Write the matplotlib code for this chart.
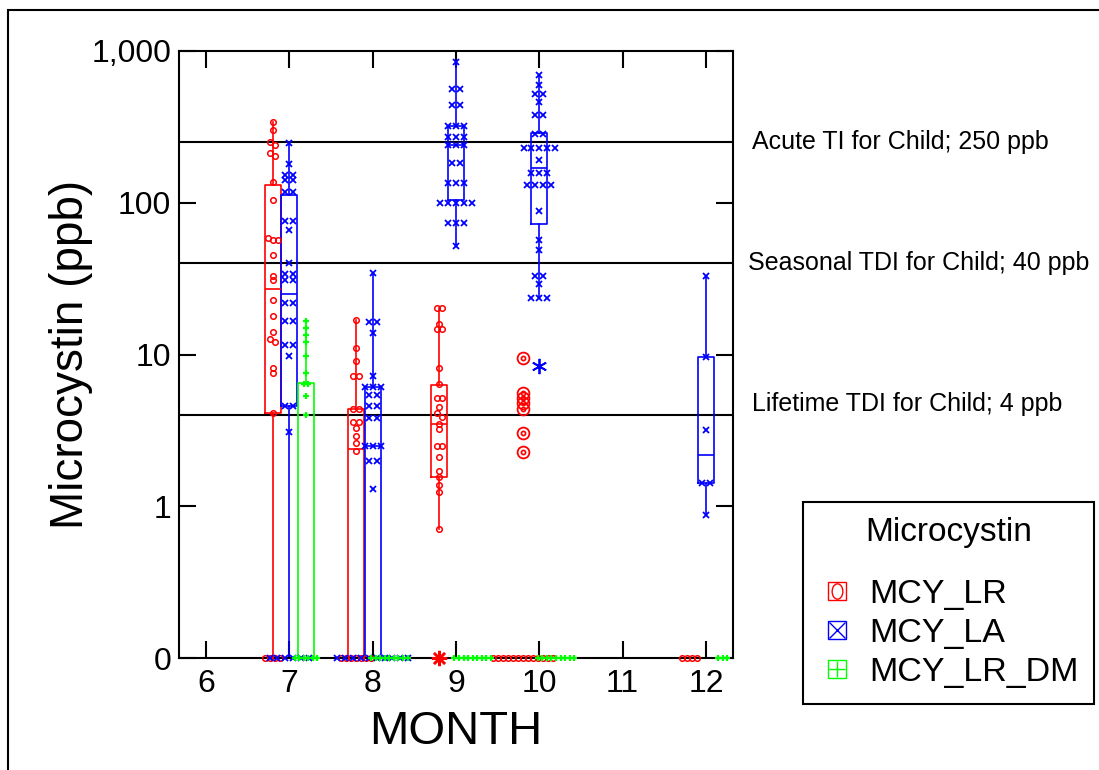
import numpy as np
import matplotlib
matplotlib.use('Agg')
import matplotlib.pyplot as plt
import matplotlib.transforms as mtransforms
from matplotlib.lines import Line2D
from matplotlib.patches import Rectangle
from matplotlib.path import Path
from matplotlib import font_manager

# ---- data ----
SERIES = ['MCY_LR', 'MCY_LA', 'MCY_LR_DM']
MONTHS = [6, 7, 8, 9, 10, 11, 12]

# non-zero concentrations (ppb) per month
lr_values = {
    7: [341, 302, 252, 239, 214, 204, 137, 104, 59, 57, 57, 45, 33, 31, 23, 18,
        14, 12.6, 12, 8.2, 7.6, 4.1],
    8: [16.9, 11.1, 9.1, 7.2, 7.2, 4.4, 4.4, 3.6, 3.6, 3.3, 2.9, 2.6, 2.3],
    9: [20.1, 20.1, 15.8, 14.7, 14.7, 8.1, 6.4, 5.2, 5.2, 4.5, 4.1, 3.9, 3.5,
        3.25, 2.5, 2.5, 2.1, 1.7, 1.55, 1.38, 1.24, 0.71],
}
la_values = {
    7: [246, 179, 152, 152, 141, 141, 118, 118, 76, 76, 66, 40, 34, 34, 31, 31,
        22, 22, 16.6, 16.6, 11.5, 11.5, 9.8, 4.6, 4.6, 3.1],
    8: [34.7, 16.3, 16.3, 13.8, 7.2, 6.1, 6.1, 6.1, 5.4, 5.4, 4.6, 4.6, 3.8, 3.8,
        2.5, 2.5, 2.5, 2.0, 2.0, 1.3],
    9: [847, 560, 560, 441, 441, 321, 321, 321, 273, 273, 273, 239, 239, 239,
        184, 184, 134, 134, 134, 100, 100, 100, 100, 100, 73, 73, 73, 52],
    10: [692, 594, 519, 519, 462, 378, 378, 283, 283, 229, 229, 229, 229, 229,
         191, 158, 158, 158, 131, 131, 131, 131, 88, 57, 49, 33, 33, 29,
         23.5, 23.5, 23.5],
    12: [33, 9.6, 3.2, 1.42, 1.42, 0.87],
}
dm_values = {
    7: [16.6, 15, 13.4, 12, 9.8, 7.6, 6.4, 6.4, 5.3, 4.0],
}

# number of non-detects (0 ppb) per month
lr_zeros = {7: 4, 8: 7, 10: 13, 12: 4}
la_zeros = {7: 6, 8: 10}
dm_zeros = {7: 6, 8: 9, 9: 9, 10: 9, 12: 3}

# box stats: q1, median, q3, whisker low, whisker high
lr_box = {7: (4.1, 27, 130, 0, 341), 8: (0, 2.4, 4.4, 0, 16.9),
          9: (1.55, 3.5, 6.3, 0.71, 20.1)}
la_box = {7: (4.56, 25, 112, 0, 246), 8: (0, 2.5, 6.1, 0, 34.7),
          9: (105, 239, 321, 52, 847), 10: (72, 169, 287, 23.5, 692),
          12: (1.42, 2.17, 9.6, 0.87, 33)}
dm_box = {7: (0, 0, 6.45, 0, 16.6)}

# outside values (*) and far outside values (circled)
lr_outside = {9: [0]}
la_outside = {10: [8.4]}
lr_far = {10: [9.45, 5.6, 5.2, 4.8, 4.4, 3.06, 2.28]}

limit_values = [250, 40, 4]
limit_labels = ['Acute TI for Child; 250 ppb', 'Seasonal TDI for Child; 40 ppb',
                'Lifetime TDI for Child; 4 ppb']

y_ticks = [0, 1, 10, 100, 1000]
y_ticklabels = ['0', '1', '10', '100', '1,000']

# ---- styles ----
ROJO, AZUL, VERDE = '#ff0000', '#0000ff', '#00ff00'
ESTILO = {
    'MCY_LR':    dict(color=ROJO, off=-0.2, marker='o', ms=4.0, mew=1.1, step=0.06),
    'MCY_LA':    dict(color=AZUL, off=0.0, marker='x', ms=4.2, mew=1.3, step=0.095),
    'MCY_LR_DM': dict(color=VERDE, off=0.2, marker='+', ms=5.0, mew=1.6, step=0.055),
}

plt.rcParams['font.family'] = ['Liberation Sans', 'DejaVu Sans']
disponibles = {f.name for f in font_manager.fontManager.ttflist}
ANGOSTA = 'Liberation Sans Narrow' if 'Liberation Sans Narrow' in disponibles else 'Liberation Sans'


def adelante(v):
    return np.log10(np.maximum(np.asarray(v, dtype=float), 0.1))


def inversa(y):
    return 10.0 ** np.asarray(y, dtype=float)


def desplazar(vals, step, tol=0.025):
    # pone lado a lado los puntos que caen al mismo nivel
    y = adelante(vals)
    orden = np.argsort(-y, kind='stable')
    offs = np.zeros(len(vals))
    i = 0
    while i < len(orden):
        j = i
        while j + 1 < len(orden) and abs(y[orden[j + 1]] - y[orden[i]]) < tol:
            j += 1
        n = j - i + 1
        offs[orden[i:j + 1]] = (np.arange(n) - (n - 1) / 2) * step
        i = j + 1
    return offs


fig = plt.figure(figsize=(10.99, 7.70), dpi=100)
ax = fig.add_axes([179 / 1099, 112 / 770, 554 / 1099, 607 / 770])
ax.set_yscale('function', functions=(adelante, inversa))
ax.set_xlim(5.676, 12.324)
ax.set_ylim(0, 1000)

# reference lines
for v in limit_values:
    ax.axhline(v, color='black', lw=1.5, zorder=1)

datos = {
    'MCY_LR': (lr_values, lr_zeros, lr_box),
    'MCY_LA': (la_values, la_zeros, la_box),
    'MCY_LR_DM': (dm_values, dm_zeros, dm_box),
}

for nombre in SERIES:
    valores, ceros, cajas = datos[nombre]
    e = ESTILO[nombre]
    c = e['color']
    for mes, st in cajas.items():
        q1, med, q3, lo, hi = st
        ax.bxp([dict(q1=q1, med=med, q3=q3, whislo=lo, whishi=hi, fliers=[])],
               positions=[mes + e['off']], widths=0.19, showcaps=False,
               showfliers=False, manage_ticks=False,
               boxprops=dict(color=c, lw=1.2),
               whiskerprops=dict(color=c, lw=1.2),
               medianprops=dict(color=c, lw=1.2))
    for mes in MONTHS:
        vals = list(valores.get(mes, [])) + [0] * ceros.get(mes, 0)
        if not vals:
            continue
        xs = mes + e['off'] + desplazar(vals, e['step'])
        ax.plot(xs, vals, ls='none', marker=e['marker'], ms=e['ms'],
                mfc='none', mec=c, mew=e['mew'], clip_on=False, zorder=4)

# outside / far outside values
for mes, vals in lr_outside.items():
    ax.plot([mes - 0.2] * len(vals), vals, ls='none', marker=(8, 2, 0), ms=11,
            mec=ROJO, mew=1.8, clip_on=False, zorder=5)
for mes, vals in la_outside.items():
    ax.plot([mes] * len(vals), vals, ls='none', marker=(6, 2, 0), ms=11,
            mec=AZUL, mew=1.3, clip_on=False, zorder=5)
for mes, vals in lr_far.items():
    ax.plot([mes - 0.2] * len(vals), vals, ls='none', marker='o', ms=8.5,
            mfc='none', mec=ROJO, mew=1.3, zorder=5)
    ax.plot([mes - 0.2] * len(vals), vals, ls='none', marker='o', ms=3,
            mfc='none', mec=ROJO, mew=1.2, zorder=5)

# axes styling
ax.set_xticks(MONTHS)
ax.set_xticklabels([str(m) for m in MONTHS])
ax.yaxis.set_major_locator(matplotlib.ticker.FixedLocator(y_ticks))
ax.yaxis.set_minor_locator(matplotlib.ticker.NullLocator())
ax.set_yticklabels(y_ticklabels)
ax.tick_params(direction='in', length=12, width=1.5, top=True, right=True,
               labelsize=23, color='black')
ax.tick_params(axis='y', pad=5.5)
ax.tick_params(axis='x', pad=8)
for sp in ax.spines.values():
    sp.set_linewidth(1.5)

ax.set_ylabel('Microcystin (ppb)', fontsize=33)
ax.yaxis.set_label_coords(-0.155, 0.5)
ax.set_xlabel('MONTH', fontsize=34, family=[ANGOSTA, 'Liberation Sans'])
ax.xaxis.set_label_coords(0.5, -0.085)

# labels of the reference lines
mezcla = mtransforms.blended_transform_factory(ax.transAxes, ax.transData)
desfases = [(14, 0), (11, 0), (14, 8)]
for v, txt, (dx, dy) in zip(limit_values, limit_labels, desfases):
    ax.annotate(txt, xy=(1.0, v), xycoords=mezcla, xytext=(dx, dy),
                textcoords='offset points', ha='left', va='center',
                fontsize=18, annotation_clip=False)

# legend
elipse = Path(Path.unit_circle().vertices * [0.7, 1.0], Path.unit_circle().codes)
simbolos = [elipse, 'x', '+']
manejadores = []
for nombre, sim in zip(SERIES, simbolos):
    c = ESTILO[nombre]['color']
    cuadro = Line2D([], [], ls='none', marker='s', ms=13.5, mfc='none', mec=c, mew=1.0)
    dentro = Line2D([], [], ls='none', marker=sim, ms=11, mfc='none', mec=c, mew=1.0)
    manejadores.append((cuadro, dentro))

leg = fig.legend(manejadores, SERIES, loc='upper left',
                 bbox_to_anchor=(803 / 1099, 1 - 502 / 770),
                 bbox_transform=fig.transFigure, title='Microcystin',
                 title_fontsize=24, fontsize=24.5, frameon=True, fancybox=False,
                 edgecolor='black', framealpha=1, borderpad=0.45,
                 labelspacing=0.24, handlelength=1.1, handletextpad=0.4,
                 borderaxespad=0)
leg.get_frame().set_linewidth(1.5)
leg._legend_box.sep = 22

# outer frame
fig.add_artist(Rectangle((7.5 / 1099, -0.05), 1.2, 1.05 - 9.5 / 770,
                         transform=fig.transFigure, fill=False, lw=1.5,
                         ec='black'))

fig.savefig('out.png', dpi=100)
